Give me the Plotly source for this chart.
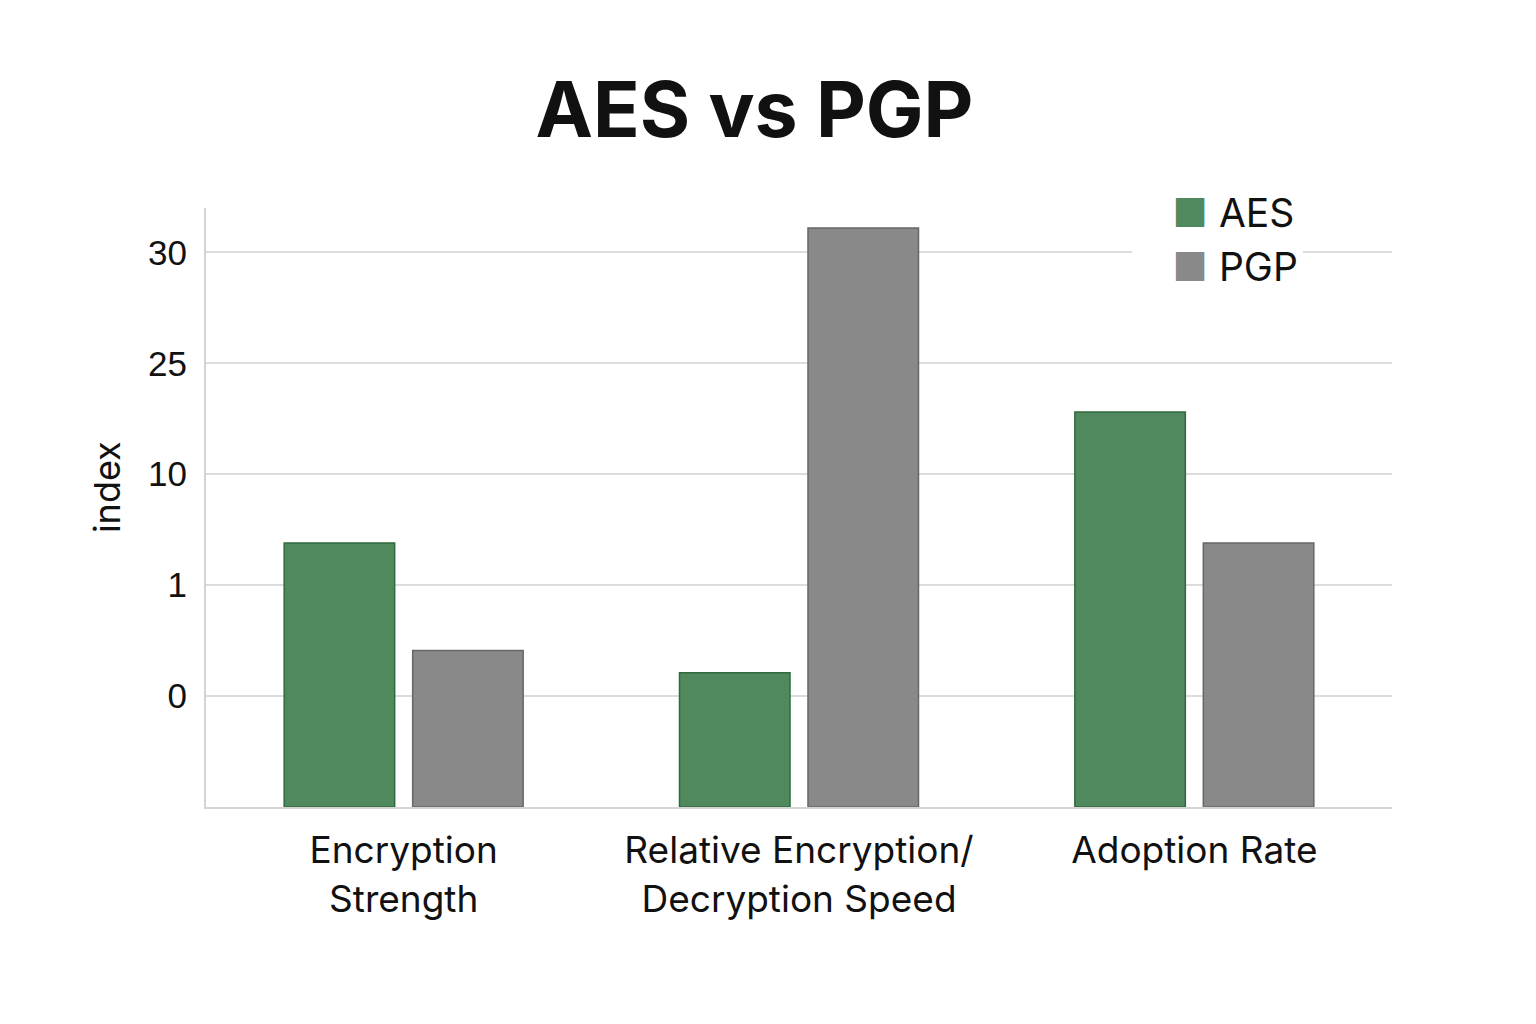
import plotly.graph_objects as go

# categories along the x axis
categories = ["Encryption<br>Strength", "Relative Encryption/<br>Decryption Speed", "Adoption Rate"]

# the y axis is drawn with evenly spaced, non-linear labels;
# bar heights in "tick step" units (0 = axis floor)
tick_steps = [1, 2, 3, 4, 5]
tick_labels = ["0", "1", "10", "25", "30"]

aes_values = [2.38, 1.21, 3.56]
pgp_values = [1.41, 5.22, 2.38]

series_names = ["AES", "PGP"]
series_colors = ["#50895e", "#888988"]
series_lines = ["#2f6a3d", "#666766"]

fig = go.Figure()

for name, vals, color, line in zip(series_names, [aes_values, pgp_values], series_colors, series_lines):
    fig.add_trace(go.Bar(
        x=categories, y=vals, name=name,
        marker=dict(color=color, line=dict(color=line, width=1.5)),
        showlegend=False,
    ))
    # legend entry: plotly caps swatch size, so draw the square as a glyph in the label
    fig.add_trace(go.Scatter(
        x=[None], y=[None], mode="lines", line=dict(width=0, color=color),
        name=f"<span style='color:{color}'>■</span> {name}",
    ))

fig.update_layout(
    width=1536, height=1024,
    paper_bgcolor="white", plot_bgcolor="white",
    margin=dict(l=198, r=152, t=200, b=225),
    title=dict(text="<b>AES vs PGP</b>", x=0.486, xanchor="center", y=0.9, yanchor="middle",
               font=dict(family="Inter", size=77, color="#111111")),
    bargap=0.35, bargroupgap=0.14,
    legend=dict(x=0.781, xanchor="left", y=1.047, yanchor="top",
                font=dict(family="Inter", size=39, color="#111111"),
                bgcolor="rgba(255,255,255,1)", itemwidth=30, tracegroupgap=6),
    font=dict(family="Liberation Sans", color="#111111"),
    annotations=[dict(
        text="index", textangle=-90, xref="paper", yref="paper",
        x=-0.0835, y=0.534, xanchor="center", yanchor="middle", showarrow=False,
        font=dict(family="Inter", size=36, color="#111111"),
    )],
)

fig.update_xaxes(
    showline=True, linecolor="#d4d4d4", linewidth=2,
    tickfont=dict(family="Inter", size=37, color="#111111"),
    ticks="", showgrid=False, ticklabelstandoff=10,
)
fig.update_yaxes(
    range=[0, 5.4], tickvals=tick_steps, ticktext=tick_labels,
    showline=True, linecolor="#d4d4d4", linewidth=2,
    showgrid=True, gridcolor="#dcdcdc", gridwidth=1.5,
    zeroline=False, ticks="", ticklabelstandoff=10,
    tickfont=dict(family="Liberation Sans", size=35, color="#111111"),
)

fig.write_html("out.html")
